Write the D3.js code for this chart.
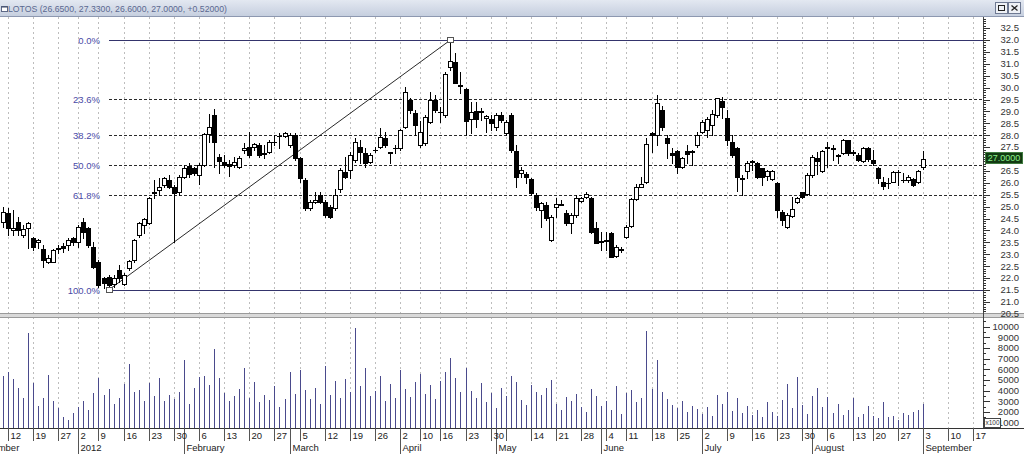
<!DOCTYPE html>
<html><head><meta charset="utf-8">
<script src="https://cdn.jsdelivr.net/npm/d3@7"></script>
<style>
html,body{margin:0;padding:0;background:#fff;overflow:hidden;}
svg{display:block;font-family:"Liberation Sans",Arial,sans-serif;}
</style></head><body>
<svg id="c" width="1024" height="455"></svg>
<script>
// ---------------- DATA ----------------
const titleText = "LOTOS (26.6500, 27.3300, 26.6000, 27.0000, +0.52000)";
const lastPriceLabel = "27.0000";
const lastPrice = 27.0;
const firstDataDate = "2011-12-09";
const holidays = ["2011-12-26","2012-01-06","2012-04-06","2012-04-09","2012-05-01","2012-05-03","2012-06-07","2012-08-15"];
const hiddenWeekLabels = ["2012-05-07"];
const monthNames = ["December","2012","February","March","April","May","June","July","August","September"];

const open = [24.37,24.72,24.0,24.37,23.81,24.09,23.67,23.5,23.22,22.69,22.69,23.22,23.36,23.39,23.67,
23.53,24.37,24.09,23.32,22.69,22.0,22.05,21.74,22.34,21.74,22.41,22.76,23.81,24.23,24.3,
25.58,25.7,25.91,26.12,25.84,25.63,26.26,26.72,26.64,26.33,26.75,28.04,28.85,27.1,26.87,
26.78,26.75,26.68,27.38,27.52,27.49,27.59,27.24,27.31,27.7,27.98,27.97,27.59,28.01,27.03,
26.12,24.94,25.2,25.49,25.21,24.99,24.93,25.74,26.44,26.54,26.96,27.52,27.24,26.89,27.38,
27.52,27.9,27.28,27.45,27.45,28.36,29.48,28.92,27.6,27.66,28.57,29.48,28.99,28.85,30.88,
31.09,30.1,29.93,28.67,29.03,28.97,28.71,28.67,28.36,28.85,28.08,28.85,27.35,26.43,26.37,
26.15,25.49,24.86,25.07,23.6,25.0,25.11,24.75,24.3,24.65,25.25,25.42,25.35,24.09,23.55,
23.57,23.9,22.92,23.2,23.71,24.19,25.31,25.84,26.05,28.11,28.01,29.06,27.87,27.27,27.35,
26.65,27.35,27.31,27.59,28.15,28.22,28.43,28.85,29.44,28.71,27.73,27.45,26.2,26.5,26.88,
26.82,26.61,26.3,26.16,25.98,24.79,24.16,24.62,25.18,25.6,25.52,26.33,27.03,26.5,27.5,
27.48,27.17,27.24,27.8,27.31,27.17,26.92,27.48,26.96,26.64,26.02,25.98,26.05,26.44,26.12,
26.12,26.15,26.05,26.65];
const high = [25.0,24.93,24.86,24.58,24.23,24.37,23.74,23.65,23.39,22.97,23.22,23.39,23.46,23.67,23.74,
24.23,24.51,24.16,23.53,22.76,22.06,22.13,22.13,22.55,22.2,22.76,23.64,24.37,24.51,25.42,
26.12,26.19,26.26,26.33,25.91,26.33,26.75,26.82,26.68,26.82,28.08,28.9,29.1,27.21,27.17,
26.96,27.1,27.13,27.66,28.15,27.66,27.66,27.59,27.8,28.0,28.08,28.15,28.08,28.08,27.1,
26.2,25.3,25.63,25.63,25.28,25.07,25.74,26.61,27.1,27.31,27.87,27.8,27.45,27.24,27.52,
28.29,28.15,27.3,27.59,28.25,30.04,29.55,29.06,28.6,28.85,29.83,29.69,29.2,30.67,32.0,
31.44,30.67,29.97,29.41,29.41,29.13,28.85,28.85,28.92,28.99,28.64,28.92,27.59,26.65,26.47,
26.19,25.56,25.21,25.21,24.65,25.35,25.28,24.86,24.72,25.49,25.42,25.63,25.42,24.37,23.95,
23.95,23.95,23.39,23.32,24.23,25.35,25.95,26.26,27.87,28.15,29.69,29.23,28.01,27.45,27.38,
27.1,27.59,27.38,28.15,28.64,28.78,29.06,29.58,29.62,29.06,28.01,27.52,26.33,26.92,26.96,
26.89,26.64,26.54,26.54,26.05,24.86,24.72,25.42,25.42,25.63,26.4,27.17,27.31,27.38,27.73,
27.59,27.2,27.84,27.82,27.38,27.24,27.52,27.52,27.38,26.68,26.26,26.19,26.5,26.54,26.4,
26.33,26.22,26.55,27.33];
const low = [24.16,23.81,23.81,23.81,23.74,23.25,23.18,23.25,22.48,22.62,22.66,23.04,23.11,23.18,23.39,
23.32,23.67,23.32,22.41,21.64,21.6,21.5,21.64,21.85,21.71,22.34,22.69,23.74,23.88,24.26,
25.35,25.49,25.84,25.77,23.53,25.49,26.19,26.26,26.33,25.94,26.72,27.73,26.66,26.4,26.68,
26.3,26.68,26.61,27.24,27.1,27.38,27.1,27.03,27.24,27.59,27.45,27.94,27.52,26.96,26.05,
24.86,24.86,25.14,25.14,24.58,24.53,24.86,25.63,26.19,26.19,26.89,26.82,26.68,26.82,27.31,
27.45,27.52,26.82,27.24,27.38,28.3,28.92,28.01,27.52,27.6,28.5,28.99,28.57,28.78,30.74,
30.18,29.76,28.01,28.08,28.36,28.64,28.15,28.22,28.22,28.57,28.01,27.31,25.84,26.26,25.98,
25.49,24.86,24.16,24.44,23.57,24.58,25.05,24.23,23.88,24.58,25.21,25.35,23.9,23.46,23.2,
23.18,22.87,22.9,23.11,23.67,24.16,25.28,25.81,25.98,27.31,27.59,28.22,27.03,26.82,26.4,
26.61,26.82,26.75,27.52,28.08,27.94,28.01,28.78,28.71,27.59,27.1,25.66,25.49,26.19,26.54,
26.19,25.91,26.12,26.12,24.58,24.23,24.12,24.58,25.14,25.35,25.49,26.26,26.36,26.47,26.68,
26.96,26.82,27.2,27.17,27.17,26.92,26.89,26.92,26.75,25.98,25.74,25.8,26.02,25.91,26.05,
26.05,25.88,26.0,26.6];
const close = [24.79,24.09,24.1,24.02,24.05,24.3,23.32,23.6,22.76,22.83,23.18,23.25,23.25,23.6,23.53,
24.16,23.95,23.39,22.48,21.71,21.8,21.71,21.99,22.02,22.13,22.72,23.6,24.3,24.48,25.38,
25.62,25.84,26.19,25.84,25.56,26.26,26.64,26.36,26.4,26.75,28.04,28.36,27.71,26.93,26.75,
26.72,26.89,27.06,27.45,27.17,27.63,27.17,27.2,27.73,27.73,27.97,28.08,28.01,27.03,26.19,
24.94,25.2,25.27,25.21,24.65,24.58,25.49,26.54,26.26,27.17,27.73,27.31,26.82,27.17,27.4,
27.94,27.59,27.24,27.46,28.22,29.83,29.06,28.43,28.15,28.78,29.48,29.06,28.97,30.57,31.13,
30.21,30.05,28.61,28.99,28.67,29.0,28.81,28.5,28.85,28.64,28.57,27.38,26.26,26.54,26.26,
25.56,25.0,25.14,24.51,24.55,25.11,25.09,24.32,24.65,25.35,25.35,25.53,23.95,23.49,23.5,
23.62,22.9,23.29,23.22,24.16,25.31,25.81,25.95,27.63,28.01,29.34,28.33,27.66,27.17,26.68,
27.03,27.21,27.33,28.01,28.54,28.68,28.88,29.55,29.2,27.8,27.17,26.26,26.18,26.82,26.9,
26.26,26.26,26.5,26.5,24.86,24.44,24.65,24.9,25.35,25.42,26.33,27.1,26.92,27.34,27.48,
27.42,27.14,27.8,27.24,27.24,26.96,27.48,27.0,26.82,26.19,25.88,26.0,26.44,26.45,26.13,
26.26,25.91,26.48,27.0];
const volume = [5400,5800,5100,4300,3300,9400,4700,2600,3300,5500,3000,2400,1500,1300,1900,
2500,3000,2200,3800,5200,3600,4200,2800,3300,4600,6500,3900,4100,3000,4700,3500,5200,3000,3600,3200,3900,6900,2800,4300,5300,
5400,4500,7900,5200,3800,3000,3500,4200,6100,3300,4800,2900,3600,3100,4400,2500,3200,5800,3700,
5900,4100,3200,4300,2800,6300,3600,4900,3300,5100,3900,9900,4400,6100,3500,4000,5400,3000,4600,3300,
5900,4200,3400,4800,5600,3700,4500,3200,4900,5800,7100,5200,3900,6100,4000,3300,4700,2900,3800,2400,4300,3500,
5400,4800,3100,2700,4500,3900,3600,4300,5000,2800,2200,3400,3000,3700,2500,2000,4200,3500,2600,
3000,2200,4400,1800,3800,4100,2900,3300,9600,4200,6900,3900,3200,2700,2400,3000,2000,2600,2300,
1800,2500,1600,3600,2800,3900,2100,3300,1900,2600,1700,2200,1500,2900,2000,1600,3100,4600,2400,5300,2700,1800,3500,4300,2500,
3400,1900,2800,1700,2200,3300,1500,1800,2600,1600,1400,2900,1500,1600,1300,1900,1700,2000,2200,2800];

const fibHigh = 32.0, fibLow = 21.5;
const fibHighDate = "2012-04-18", fibLowDate = "2012-01-11";
const fibLevels = [0, 23.6, 38.2, 50.0, 61.8, 100];
const fibLabels = ["0.0%","23.6%","38.2%","50.0%","61.8%","100.0%"];
const priceTickLabels = ["20.5","21.0","21.5","22.0","22.5","23.0","23.5","24.0","24.5","25.0","25.5","26.0","26.5","27.5","28.0","28.5","29.0","29.5","30.0","30.5","31.0","31.5","32.0","32.5"];
const volumeTickLabels = ["1000","2000","3000","4000","5000","6000","7000","8000","9000","10000"];

// ---------------- LAYOUT ----------------
const W = 1024, H = 455;
const plotR = 983, pTop = 17, pBot = 313, vTop = 318, vBot = 428;
const FONT = 9.5;

const parse = d3.utcParse("%Y-%m-%d"), fmt = d3.utcFormat("%Y-%m-%d");
const days = d3.utcDay.range(parse("2011-12-01"), parse("2012-09-29"))
  .filter(d => d.getUTCDay() !== 0 && d.getUTCDay() !== 6 && !holidays.includes(fmt(d)));
const idxOf = new Map(days.map((d, i) => [fmt(d), i]));
const base = idxOf.get("2011-12-12");
const start = idxOf.get(firstDataDate);
const pos = d => idxOf.get(d) - base;

const x = d3.scaleLinear().domain([0, 182]).range([8, 923]);
const y = d3.scaleLinear().domain([fibLow, fibHigh]).range([290, 40]);
const yv = d3.scaleLinear().domain([1000, 10000]).range([422.7, 326.7]);

const data = open.map((o, i) => ({i: start + i - base, o, h: high[i], l: low[i], c: close[i], v: volume[i]}));

const svg = d3.select("#c");
const defs = svg.append("defs");
defs.append("clipPath").attr("id", "cp").append("rect").attr("x", 0).attr("y", pTop).attr("width", plotR).attr("height", pBot - pTop);
defs.append("clipPath").attr("id", "cv").append("rect").attr("x", 0).attr("y", vTop).attr("width", plotR).attr("height", vBot - vTop);
const tg = defs.append("linearGradient").attr("id", "tg").attr("x1", 0).attr("y1", 0).attr("x2", 0).attr("y2", 1);
tg.append("stop").attr("offset", 0).attr("stop-color", "#e3e8f1");
tg.append("stop").attr("offset", 1).attr("stop-color", "#c6cfdf");

svg.append("rect").attr("width", W).attr("height", H).attr("fill", "#fff");

// ---- title bar
svg.append("rect").attr("width", W).attr("height", 16).attr("fill", "url(#tg)");
svg.append("line").attr("x1", 0).attr("x2", W).attr("y1", 16.5).attr("y2", 16.5).attr("stroke", "#8d98b0");
svg.append("rect").attr("x", 1.5).attr("y", 6.5).attr("width", 6).attr("height", 5).attr("fill", "#fff").attr("stroke", "#5d6886");
svg.append("rect").attr("x", 1.5).attr("y", 6.5).attr("width", 6).attr("height", 1).attr("fill", "#3a4664");
svg.append("text").attr("x", 8).attr("y", 12).attr("font-size", 8.7).attr("fill", "#5a6890").text(titleText);
[995, 1008].forEach((bx, k) => {
  svg.append("rect").attr("x", bx + 0.5).attr("y", 2.5).attr("width", 12).attr("height", 11).attr("fill", "#eef1f6").attr("stroke", "#6f7a93");
  if (k === 0) svg.append("rect").attr("x", bx + 3.5).attr("y", 5.5).attr("width", 6).attr("height", 5).attr("fill", "none").attr("stroke", "#222");
  else svg.append("path").attr("d", `M${bx+3.5},5.5L${bx+9.5},10.5M${bx+9.5},5.5L${bx+3.5},10.5`).attr("stroke", "#222").attr("stroke-width", 1.3);
});

// ---- ticks from calendar
const weekTicks = [], monthTicks = [];
days.forEach((d, k) => {
  const prev = days[k - 1];
  if (!prev || +d3.utcMonday.floor(prev) !== +d3.utcMonday.floor(d)) weekTicks.push(d);
  if (!prev || prev.getUTCMonth() !== d.getUTCMonth()) monthTicks.push(d);
});
const wt = weekTicks.filter(d => pos(fmt(d)) >= -1 && x(pos(fmt(d))) < plotR);
const mt = monthTicks.filter(d => x(pos(fmt(d))) < plotR);

// ---- gridlines
svg.append("g").selectAll("line").data(wt).join("line")
  .attr("x1", d => Math.round(x(pos(fmt(d)))) + 0.5).attr("x2", d => Math.round(x(pos(fmt(d)))) + 0.5)
  .attr("y1", pTop).attr("y2", vBot)
  .attr("stroke", "#bdbdbd").attr("stroke-dasharray", "2,3");

// ---- price panel
const gp = svg.append("g").attr("clip-path", "url(#cp)");
const xLow = x(pos(fibLowDate)), xHigh = x(pos(fibHighDate));
const fibPrice = f => fibHigh - (fibHigh - fibLow) * f / 100;
fibLevels.forEach((f, k) => {
  const yy = Math.round(y(fibPrice(f))) + 0.5;
  const solid = (f === 0 || f === 100);
  gp.append("line").attr("x1", Math.round(xLow)).attr("x2", plotR).attr("y1", yy).attr("y2", yy)
    .attr("stroke", solid ? "#34346c" : "#2a2a2a").attr("stroke-dasharray", solid ? null : "3,2");
  gp.append("text").attr("x", 100).attr("y", yy).attr("dy", "0.35em").attr("text-anchor", "end")
    .attr("font-size", FONT).attr("fill", "#4a4aa6").text(fibLabels[k]);
});
gp.append("line").attr("x1", xLow).attr("y1", y(fibLow)).attr("x2", xHigh).attr("y2", y(fibHigh))
  .attr("stroke", "#111").attr("stroke-width", 0.9);

// candles
const cg = gp.append("g").attr("shape-rendering", "crispEdges");
data.forEach(d => {
  const cx = Math.round(x(d.i));
  cg.append("line").attr("x1", cx + 0.5).attr("x2", cx + 0.5).attr("y1", Math.round(y(d.h))).attr("y2", Math.round(y(d.l)) + 1)
    .attr("stroke", "#000");
  const top = Math.round(y(Math.max(d.o, d.c))), bot = Math.round(y(Math.min(d.o, d.c)));
  const up = d.c >= d.o;
  cg.append("rect").attr("x", cx - 1.5).attr("y", top + 0.5).attr("width", 4).attr("height", Math.max(bot - top, 0.01))
    .attr("fill", up ? "#fff" : "#000").attr("stroke", "#000");
});
// fib anchors
[[xLow, y(fibLow)], [xHigh, y(fibHigh)]].forEach(([mx, my]) => {
  gp.append("rect").attr("x", Math.round(mx) - 2.5).attr("y", Math.round(my) - 2.5).attr("width", 6).attr("height", 5)
    .attr("fill", "#fff").attr("stroke", "#555");
});

// ---- separator
svg.append("rect").attr("x", 0).attr("y", pBot).attr("width", W).attr("height", vTop - pBot).attr("fill", "#d9d9d9");
svg.append("line").attr("x1", 0).attr("x2", W).attr("y1", pBot + 0.5).attr("y2", pBot + 0.5).attr("stroke", "#9a9a9a");
svg.append("line").attr("x1", 0).attr("x2", W).attr("y1", vTop - 0.5).attr("y2", vTop - 0.5).attr("stroke", "#9a9a9a");

// ---- volume
const gv = svg.append("g").attr("clip-path", "url(#cv)").attr("shape-rendering", "crispEdges");
gv.selectAll("rect").data(data).join("rect")
  .attr("x", d => Math.round(x(d.i))).attr("width", 1)
  .attr("y", d => yv(d.v)).attr("height", d => vBot - yv(d.v))
  .attr("fill", "#4a4a8c");

// ---- right axis
svg.append("line").attr("x1", plotR + 0.5).attr("x2", plotR + 0.5).attr("y1", pTop).attr("y2", vBot).attr("stroke", "#444");
const pt = svg.append("g").attr("shape-rendering", "crispEdges");
d3.range(205, 331).forEach(t => {
  const v = t / 10, yy = Math.round(y(v)) + 0.5;
  if (yy < pTop + 2 || yy > pBot) return;
  pt.append("line").attr("x1", plotR).attr("x2", plotR + (t % 5 === 0 ? 7 : 3)).attr("y1", yy).attr("y2", yy).attr("stroke", "#333");
});
priceTickLabels.forEach(s => {
  svg.append("text").attr("x", 1019).attr("y", y(+s)).attr("dy", "0.35em").attr("text-anchor", "end")
    .attr("font-size", FONT).attr("fill", "#333").text(s);
});
// last price box (covers the 27.0 level)
const ly = y(lastPrice);
svg.append("rect").attr("x", 985.5).attr("y", Math.round(ly) - 6.5).attr("width", 37).attr("height", 11)
  .attr("fill", "#123a12").attr("stroke", "#3f7a3f");
svg.append("text").attr("x", 1004).attr("y", Math.round(ly) - 1).attr("dy", "0.35em").attr("text-anchor", "middle")
  .attr("font-size", 9).attr("fill", "#8cf08c").text(lastPriceLabel);

// volume axis
d3.range(500, 10600, 500).forEach(v => {
  const yy = Math.round(yv(v)) + 0.5;
  if (yy < vTop + 1 || yy > vBot) return;
  pt.append("line").attr("x1", plotR).attr("x2", plotR + (v % 1000 === 0 ? 7 : 3)).attr("y1", yy).attr("y2", yy).attr("stroke", "#333");
});
volumeTickLabels.forEach(s => {
  svg.append("text").attr("x", 1019).attr("y", yv(+s)).attr("dy", "0.35em").attr("text-anchor", "end")
    .attr("font-size", FONT).attr("fill", "#333").text(s);
});
svg.append("rect").attr("x", 984.5).attr("y", 418.5).attr("width", 16).attr("height", 9).attr("fill", "#fff").attr("stroke", "#444");
svg.append("text").attr("x", 992.5).attr("y", 423).attr("dy", "0.35em").attr("text-anchor", "middle").attr("font-size", 6.5).attr("fill", "#333").text("x100");

// ---- date axis
svg.append("line").attr("x1", 0).attr("x2", W).attr("y1", vBot + 0.5).attr("y2", vBot + 0.5).attr("stroke", "#333");
const ag = svg.append("g").attr("shape-rendering", "crispEdges");
wt.forEach(d => {
  const xx = Math.round(x(pos(fmt(d)))) + 0.5;
  ag.append("line").attr("x1", xx).attr("x2", xx).attr("y1", vBot).attr("y2", 441).attr("stroke", "#555");
  if (!hiddenWeekLabels.includes(fmt(d)))
    svg.append("text").attr("x", xx + 2).attr("y", 439).attr("font-size", FONT).attr("fill", "#222").text(d.getUTCDate());
});
mt.forEach((d, k) => {
  const xx = Math.round(x(pos(fmt(d)))) + 0.5;
  ag.append("line").attr("x1", xx).attr("x2", xx).attr("y1", vBot).attr("y2", 454).attr("stroke", "#555");
  svg.append("text").attr("x", xx + 2).attr("y", 451).attr("font-size", FONT).attr("fill", "#222").text(monthNames[k]);
});
</script>
</body></html>
